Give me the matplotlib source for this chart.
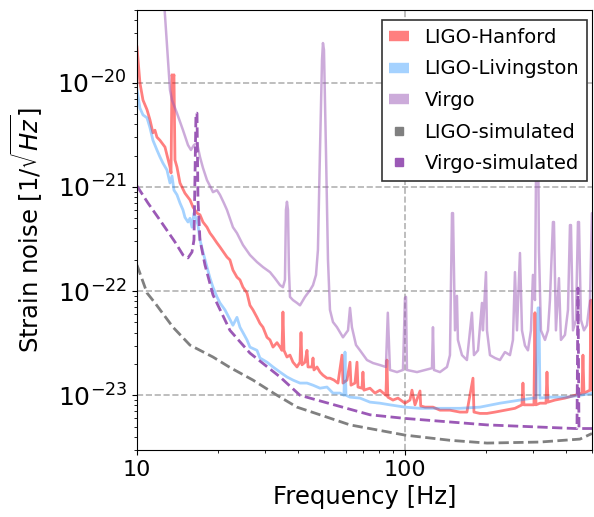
import matplotlib
matplotlib.use('Agg')
import matplotlib.pyplot as plt
import matplotlib.ticker as ticker
from matplotlib.lines import Line2D

# strain noise curves (frequency in Hz, ASD in 1/sqrt(Hz))
hanford_f = [10.0, 10.26, 10.53, 10.9, 11.18, 11.47, 11.67, 11.87, 12.18, 12.72, 13.28, 13.4, 13.51, 13.63,
             13.74, 13.86, 14.1, 14.47, 15.1, 15.77, 16.18, 16.75, 17.18, 17.63, 18.25, 18.73, 19.21, 19.88,
             20.4, 21.67, 22.23, 22.81, 23.61, 24.23, 24.86, 25.73, 26.4, 27.09, 28.04, 28.77, 29.52, 30.56,
             31.36, 32.18, 33.31, 34.18, 34.75, 35.05, 35.36, 36.28, 37.23, 38.2, 39.54, 40.58, 40.93, 41.28,
             42.37, 43.1, 43.47, 44.98, 45.38, 45.75, 46.97, 48.19, 49.43, 51.17, 52.5, 54.34, 56.23, 58.21,
             58.71, 60.77, 62.36, 62.89, 65.08, 66.22, 66.78, 69.12, 69.7, 70.3, 74.04, 77.27, 80.67, 84.9,
             85.66, 86.3, 90.2, 94.2, 100.0, 104.4, 106.2, 109.0, 113.8, 114.5, 118.8, 127.2, 135.1, 147.2,
             160.4, 170.3, 179.4, 180.9, 190.5, 202.3, 216.7, 236.1, 257.3, 273.3, 275.6, 278.0, 292.6, 302.9,
             305.5, 308.2, 319.0, 335.9, 338.8, 341.7, 362.8, 395.4, 430.9, 457.6, 461.5, 465.5, 490.2, 494.0,
             496.0, 507.0]
hanford_asd = [2.2e-20, 9.9e-21, 6.8e-21, 5.5e-21, 4.4e-21, 3.3e-21, 3.5e-21, 3.0e-21, 2.8e-21, 2.41e-21,
               1.55e-21, 1.36e-21, 1.19e-20, 1.06e-20, 1.19e-20, 1.81e-21, 1.55e-21, 1.09e-21, 8.7e-22,
               7.5e-22, 6.4e-22, 5.6e-22, 5.4e-22, 4.6e-22, 4.1e-22, 3.6e-22, 3.3e-22, 2.9e-22, 2.65e-22,
               2.12e-22, 1.99e-22, 1.59e-22, 1.36e-22, 1.28e-22, 1.09e-22, 9.6e-23, 7.3e-23, 6.6e-23, 5.6e-23,
               4.9e-23, 4.5e-23, 3.6e-23, 3.4e-23, 2.9e-23, 3.2e-23, 2.9e-23, 2.7e-23, 6.3e-23, 2.7e-23,
               2.33e-23, 2.43e-23, 2.08e-23, 1.87e-23, 2.08e-23, 4.0e-23, 1.96e-23, 2.08e-23, 2.7e-23, 1.87e-23,
               1.87e-23, 2.28e-23, 1.75e-23, 1.87e-23, 1.67e-23, 1.56e-23, 1.46e-23, 1.46e-23, 1.4e-23,
               1.31e-23, 2.43e-23, 1.31e-23, 1.4e-23, 2.08e-23, 1.25e-23, 1.31e-23, 2.08e-23, 1.2e-23,
               1.17e-23, 1.67e-23, 1.12e-23, 1.17e-23, 1.05e-23, 1.12e-23, 1.0e-23, 2.18e-23, 9.6e-24, 9.0e-24,
               9.4e-24, 8.4e-24, 9.0e-24, 1.12e-23, 8.1e-24, 1.1e-23, 7.9e-24, 7.7e-24, 7.7e-24, 7.2e-24,
               7.2e-24, 6.9e-24, 6.9e-24, 1.46e-23, 6.9e-24, 6.7e-24, 6.7e-24, 6.9e-24, 7.2e-24, 7.5e-24,
               8.1e-24, 1.31e-23, 8.1e-24, 8.1e-24, 8.1e-24, 6.2e-23, 8.1e-24, 8.4e-24, 8.4e-24, 1.67e-23,
               8.6e-24, 9.0e-24, 9.4e-24, 1.0e-23, 1.05e-23, 2.43e-23, 1.05e-23, 1.12e-23, 8.2e-23, 1.12e-23,
               1.17e-23]

livingston_f = [10.0, 10.26, 10.53, 10.9, 11.18, 11.47, 11.87, 12.18, 12.5, 12.94, 13.28, 13.51, 13.74,
                14.1, 14.47, 14.85, 15.1, 15.5, 15.77, 16.04, 16.32, 16.6, 16.89, 17.18, 17.63, 18.25, 18.73,
                19.21, 19.88, 20.4, 21.3, 22.81, 23.61, 24.23, 24.86, 25.73, 26.4, 28.04, 28.77, 30.56, 32.18,
                34.18, 36.28, 38.2, 40.58, 43.1, 45.38, 48.19, 51.17, 53.87, 57.21, 59.2, 59.73, 60.25, 62.36,
                67.95, 74.04, 80.67, 87.9, 100.0, 113.8, 135.1, 160.4, 190.5, 226.2, 268.6, 300.3, 308.2,
                313.6, 316.2, 319.0, 347.5, 402.3, 449.8, 507.0]
livingston_asd = [8.5e-21, 5.7e-21, 4.9e-21, 4.6e-21, 3.7e-21, 2.8e-21, 2.26e-21, 1.94e-21, 1.69e-21,
                  1.45e-21, 1.09e-21, 1.27e-21, 9.3e-22, 8.4e-22, 7.0e-22, 6.0e-22, 5.1e-22, 4.6e-22, 5.0e-22,
                  4.1e-22, 5.6e-22, 5.0e-22, 4.3e-22, 3.1e-22, 2.37e-22, 1.7e-22, 1.33e-22, 1.09e-22, 8.8e-23,
                  7.7e-23, 6.6e-23, 4.7e-23, 5.6e-23, 4.5e-23, 4.0e-23, 3.4e-23, 2.9e-23, 2.7e-23, 2.28e-23,
                  2.08e-23, 1.87e-23, 1.67e-23, 1.5e-23, 1.4e-23, 1.31e-23, 1.31e-23, 1.25e-23, 1.17e-23,
                  1.2e-23, 1.05e-23, 1.05e-23, 1.0e-23, 2.6e-23, 1.0e-23, 9.6e-24, 9.4e-24, 8.6e-24, 8.4e-24,
                  8.1e-24, 7.7e-24, 7.5e-24, 7.5e-24, 7.5e-24, 7.7e-24, 8.4e-24, 9.0e-24, 9.4e-24, 9.4e-24,
                  6.9e-23, 6.9e-23, 9.4e-24, 9.6e-24, 9.6e-24, 1.0e-23, 1.05e-23]

virgo_f = [12.61, 12.83, 13.05, 13.28, 13.51, 14.1, 14.85, 15.5, 15.9, 16.32, 16.75, 17.18, 17.63, 18.25,
           18.73, 19.21, 19.88, 20.4, 21.1, 21.67, 22.81, 23.61, 24.86, 26.4, 28.04, 29.52, 31.36, 32.7,
           34.18, 35.05, 35.66, 35.97, 36.28, 36.6, 36.9, 37.23, 38.2, 39.54, 40.58, 42.37, 44.22, 45.38,
           46.56, 47.34, 48.19, 49.03, 49.43, 49.86, 50.72, 51.61, 52.5, 53.87, 55.76, 58.71, 61.3, 62.36,
           63.4, 65.65, 67.95, 72.15, 75.97, 80.67, 84.9, 86.3, 87.9, 93.4, 98.3, 100.0, 100.9, 101.7,
           110.9, 118.8, 126.1, 127.2, 128.3, 135.1, 143.5, 147.2, 149.8, 151.1, 153.7, 156.3, 157.6,
           163.2, 170.3, 177.8, 180.9, 187.3, 193.8, 195.4, 200.6, 202.3, 207.6, 216.7, 226.2, 236.1,
           246.5, 252.9, 257.3, 261.8, 268.6, 273.3, 280.4, 287.7, 295.2, 300.3, 305.5, 308.2, 310.9,
           313.6, 316.2, 321.7, 333.0, 341.7, 347.5, 356.6, 359.7, 365.9, 375.5, 382.0, 395.4, 405.8,
           412.8, 416.3, 423.6, 434.6, 442.2, 446.0, 453.6, 465.5, 477.6, 490.2, 498.7, 507.0]
virgo_asd = [6.2e-20, 3.2e-20, 1.65e-20, 8.5e-21, 6.8e-21, 5.1e-21, 3.5e-21, 2.52e-21, 2.26e-21, 2.52e-21,
             2.64e-21, 1.94e-21, 1.52e-21, 1.16e-21, 1.02e-21, 8.9e-22, 9.3e-22, 8.4e-22, 7.0e-22, 6.0e-22,
             4.1e-22, 3.6e-22, 2.77e-22, 2.22e-22, 1.9e-22, 1.7e-22, 1.52e-22, 1.33e-22, 1.14e-22, 1.09e-22,
             1.28e-22, 6.0e-22, 7.2e-22, 6.0e-22, 1.59e-22, 8.8e-23, 8.2e-23, 7.7e-23, 7.3e-23, 8.8e-23,
             1.02e-22, 1.14e-22, 1.43e-22, 2.48e-22, 2.26e-21, 1.65e-20, 2.4e-20, 2.06e-20, 2.26e-21,
             1.99e-22, 6.6e-23, 5.05e-23, 4.5e-23, 3.6e-23, 4.2e-23, 6.9e-23, 4.5e-23, 3.04e-23, 2.7e-23,
             2.18e-23, 2.04e-23, 1.95e-23, 1.87e-23, 6.2e-23, 1.75e-23, 1.67e-23, 1.75e-23, 8.6e-23, 8.8e-23,
             1.75e-23, 1.67e-23, 1.75e-23, 1.82e-23, 4.5e-23, 1.75e-23, 1.67e-23, 1.87e-23, 2.43e-23,
             5.6e-22, 5.6e-22, 4.2e-23, 9.0e-23, 3.4e-23, 2.43e-23, 2.18e-23, 6.2e-23, 2.43e-23, 2.7e-23,
             7.7e-23, 4.2e-23, 1.52e-22, 4.2e-23, 2.43e-23, 2.28e-23, 2.18e-23, 2.6e-23, 2.43e-23, 3.4e-23,
             1.52e-22, 4.2e-23, 2.32e-22, 4.2e-23, 3.0e-23, 2.7e-23, 4.2e-23, 1.43e-22, 8.2e-23, 1.16e-21,
             4.7e-21, 4.7e-21, 2.48e-22, 4.2e-23, 3.4e-23, 4.2e-23, 8.2e-23, 4.6e-22, 4.6e-22, 4.2e-23,
             1.33e-22, 3.4e-23, 3.8e-23, 6.6e-23, 4.3e-22, 4.3e-22, 4.2e-23, 5.3e-23, 4.6e-22, 4.6e-22,
             5.3e-23, 4.2e-23, 4.7e-23, 8.2e-23, 5.6e-22, 5.6e-22]

ligo_sim_f = [10.0, 10.9, 11.67, 13.63, 15.77, 19.21, 22.23, 27.09, 32.7, 39.54, 48.19, 62.36, 80.67, 100.0,
              147.2, 202.3, 319.0, 449.8, 498.7]
ligo_sim_asd = [1.78e-22, 9.6e-23, 7.7e-23, 4.5e-23, 3.03e-23, 2.33e-23, 1.85e-23, 1.4e-23, 1.03e-23,
                7.7e-24, 6.5e-24, 5.2e-24, 4.6e-24, 4.15e-24, 3.7e-24, 3.48e-24, 3.56e-24, 3.8e-24, 4.3e-24]

virgo_sim_f = [10.0, 10.99, 12.18, 13.86, 14.85, 15.5, 16.04, 16.32, 16.6, 16.75, 16.89, 17.18, 17.94,
               19.21, 22.23, 26.4, 34.18, 40.58, 46.97, 74.04, 100.0, 202.3, 430.9, 438.4, 442.2, 446.0,
               507.0]
virgo_sim_asd = [1.02e-21, 7.0e-22, 4.8e-22, 2.96e-22, 2.22e-22, 2.08e-22, 2.37e-22, 3.1e-22, 5.1e-21,
                 5.1e-21, 7.5e-22, 3.1e-22, 1.78e-22, 9.2e-23, 4.2e-23, 2.54e-23, 1.5e-23, 1.0e-23, 9.0e-24,
                 6.5e-24, 6.0e-24, 5.2e-24, 4.8e-24, 4.8e-24, 1.07e-22, 4.8e-24, 4.8e-24]

labels = ['LIGO-Hanford', 'LIGO-Livingston', 'Virgo', 'LIGO-simulated', 'Virgo-simulated']

c_hanford = 'red'
c_livingston = 'dodgerblue'
c_virgo = '#9b59b6'

fig = plt.figure(figsize=(5.94, 5.17), dpi=100)
ax = fig.add_axes([0.2306, 0.130, 0.7665, 0.851])

ax.plot(hanford_f, hanford_asd, color=c_hanford, alpha=0.5, lw=2)
ax.plot(livingston_f, livingston_asd, color=c_livingston, alpha=0.4, lw=2)
ax.plot(virgo_f, virgo_asd, color=c_virgo, alpha=0.5, lw=1.8)
ax.plot(ligo_sim_f, ligo_sim_asd, color='gray', ls='--', lw=2)
ax.plot(virgo_sim_f, virgo_sim_asd, color=c_virgo, ls='--', lw=2)

ax.set_xscale('log')
ax.set_yscale('log')
ax.set_xlim(10, 500)
ax.set_ylim(3e-24, 5e-20)
ax.xaxis.set_major_formatter(ticker.ScalarFormatter())
ax.xaxis.set_minor_formatter(ticker.NullFormatter())
ax.yaxis.set_minor_formatter(ticker.NullFormatter())
ax.grid(True, which='major', ls='--', color='gray', alpha=0.6, lw=1.2)
ax.tick_params(axis='x', labelsize=16)
ax.tick_params(axis='y', labelsize=18)
ax.set_xlabel('Frequency [Hz]', fontsize=17.5)
ax.set_ylabel(r'Strain noise [$1/\sqrt{Hz}$]', fontsize=17.5, labelpad=9)

handles = [
    Line2D([], [], color=c_hanford, alpha=0.5, lw=7.5, solid_capstyle='butt'),
    Line2D([], [], color=c_livingston, alpha=0.4, lw=7.5, solid_capstyle='butt'),
    Line2D([], [], color=c_virgo, alpha=0.5, lw=7.5, solid_capstyle='butt'),
    Line2D([], [], color='gray', marker='s', ls='none', markersize=6),
    Line2D([], [], color=c_virgo, marker='s', ls='none', markersize=6),
]
leg = ax.legend(handles, labels, loc='upper right', bbox_to_anchor=(0.988, 0.977), borderaxespad=0,
                fontsize=14, handlelength=1.0, labelspacing=0.65,
                fancybox=False, edgecolor='0.2', framealpha=1)
leg.get_frame().set_linewidth(1.2)

fig.savefig('out.png', dpi=100)
